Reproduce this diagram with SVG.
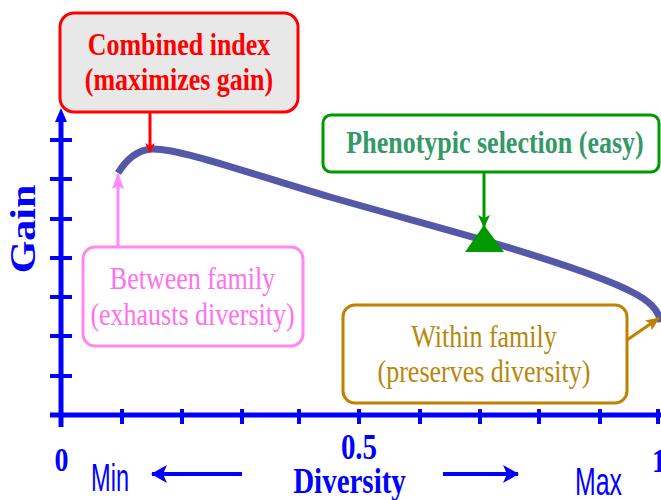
<svg xmlns="http://www.w3.org/2000/svg" width="661" height="500" viewBox="0 0 661 500">
<style>
.ser{font-family:"Liberation Serif","Times New Roman",serif;}
.b{font-weight:bold;}
.mid{text-anchor:middle;}
.blue{fill:#0000ff;}
.axis{stroke:#0000ff;stroke-width:5;fill:none;}
.tick{stroke:#0000ff;stroke-width:4;fill:none;}
.box{stroke-width:3;}
</style>
<defs>
<marker id="aRed" markerWidth="10" markerHeight="12" refX="9" refY="6" orient="auto" markerUnits="userSpaceOnUse"><path d="M0,1 L10,6 L0,11 L3,6 Z" fill="#ff0000"/></marker>
<marker id="aPink" markerWidth="16" markerHeight="12" refX="15" refY="6" orient="auto" markerUnits="userSpaceOnUse"><path d="M0,0 L16,6 L0,12 L3,6 Z" fill="#ff88ff"/></marker>
<marker id="aGreen" markerWidth="13" markerHeight="12" refX="12" refY="6" orient="auto" markerUnits="userSpaceOnUse"><path d="M0,0 L13,6 L0,12 L3,6 Z" fill="#009900"/></marker>
<marker id="aBrown" markerWidth="14" markerHeight="12" refX="13" refY="6" orient="auto" markerUnits="userSpaceOnUse"><path d="M0,0 L14,6 L0,12 L3,6 Z" fill="#c08000"/></marker>
<marker id="aBlue" markerWidth="16" markerHeight="18" refX="15" refY="9" orient="auto" markerUnits="userSpaceOnUse"><path d="M0,0 L16,9 L0,18 L4,9 Z" fill="#0000ff"/></marker>
</defs>

<g id="axes">
<line class="axis" x1="61" y1="118" x2="61" y2="427"/>
<path d="M61,108 L67,122 L55,122 Z" fill="#0000ff"/>
<line class="axis" x1="50" y1="415" x2="661" y2="415"/>
<g class="tick">
<line x1="50" y1="140" x2="72" y2="140"/>
<line x1="50" y1="179" x2="72" y2="179"/>
<line x1="50" y1="219" x2="72" y2="219"/>
<line x1="50" y1="258" x2="72" y2="258"/>
<line x1="50" y1="297" x2="72" y2="297"/>
<line x1="50" y1="336" x2="72" y2="336"/>
<line x1="50" y1="376" x2="72" y2="376"/>
<line x1="122" y1="409" x2="122" y2="424"/>
<line x1="182" y1="409" x2="182" y2="424"/>
<line x1="242" y1="409" x2="242" y2="424"/>
<line x1="299" y1="409" x2="299" y2="424"/>
<line x1="359" y1="409" x2="359" y2="424"/>
<line x1="420" y1="409" x2="420" y2="424"/>
<line x1="480" y1="409" x2="480" y2="424"/>
<line x1="539" y1="409" x2="539" y2="424"/>
<line x1="600" y1="409" x2="600" y2="424"/>
<line x1="658" y1="409" x2="658" y2="424"/>
</g>
<text class="ser b blue mid" font-size="35" transform="translate(35,229) rotate(-90) scale(1.2,1)">Gain</text>
<text class="ser b blue mid" font-size="28" transform="translate(61.5,471) scale(1,1.2)">0</text>
<text class="ser b blue mid" font-size="29" transform="translate(359,459) scale(1,1.2)">0.5</text>
<text class="ser b blue mid" font-size="28" transform="translate(659,472) scale(1,1.2)">1</text>
<text class="ser b blue mid" font-size="29" transform="translate(349.5,493) scale(1,1.2)">Diversity</text>
<text class="blue" font-family="'Liberation Sans',Arial,sans-serif" font-size="32" textLength="38" lengthAdjust="spacingAndGlyphs" transform="translate(91,491) scale(1,1.2)">Min</text>
<text class="blue" font-family="'Liberation Sans',Arial,sans-serif" font-size="32" textLength="47" lengthAdjust="spacingAndGlyphs" transform="translate(575,495) scale(1,1.2)">Max</text>
<line x1="242" y1="474" x2="152" y2="474" stroke="#0000ff" stroke-width="4" marker-end="url(#aBlue)"/>
<line x1="443" y1="474" x2="518" y2="474" stroke="#0000ff" stroke-width="4" marker-end="url(#aBlue)"/>
</g>

<g id="curve">
<path d="M118,173 C126,160 136,150 152,149 C180,148 260,177 330,197 C400,217 450,230 500,245 C560,263 605,278 632,292 C650,301 658,310 661,322" fill="none" stroke="#5558a8" stroke-width="7"/>
</g>

<g id="connectors">
<line x1="150" y1="112" x2="150" y2="152" stroke="#ff0000" stroke-width="3" marker-end="url(#aRed)"/>
<line x1="118" y1="247" x2="118" y2="174" stroke="#ff88ff" stroke-width="3" marker-end="url(#aPink)"/>
<line x1="484" y1="172" x2="484" y2="227" stroke="#009900" stroke-width="3" marker-end="url(#aGreen)"/>
<line x1="627" y1="340" x2="659" y2="318" stroke="#c08000" stroke-width="3" marker-end="url(#aBrown)"/>
</g>

<g id="phenotypic-marker">
<path d="M484,225 L504,252 L465,252 Z" fill="#009900"/>
</g>

<g id="combined-index">
<rect class="box" x="60" y="13" width="238" height="99" rx="14" fill="#e8e8e8" stroke="#ff0000"/>
<text class="ser b mid" fill="#ff0000" font-size="26" transform="translate(179,55) scale(1,1.2)">Combined index</text>
<text class="ser b mid" fill="#ff0000" font-size="26" transform="translate(179,90) scale(1,1.2)">(maximizes gain)</text>
</g>

<g id="phenotypic-selection">
<rect class="box" x="323" y="115" width="336" height="57" rx="8" fill="#ffffff" stroke="#009900"/>
<text class="ser b mid" fill="#339966" font-size="26" transform="translate(495,153) scale(1,1.2)">Phenotypic selection (easy)</text>
</g>

<g id="between-family">
<rect class="box" x="83" y="247" width="220" height="99" rx="12" fill="#ffffff" stroke="#ff88f0"/>
<text class="ser mid" fill="#ff70ee" font-size="26" transform="translate(192.5,289) scale(1,1.2)">Between family</text>
<text class="ser mid" fill="#ff70ee" font-size="26" transform="translate(192.5,325) scale(1,1.2)">(exhausts diversity)</text>
</g>

<g id="within-family">
<rect class="box" x="343" y="305" width="284" height="98" rx="12" fill="#ffffff" stroke="#c08000"/>
<text class="ser mid" fill="#b8860b" font-size="26" transform="translate(484,347) scale(1,1.2)">Within family</text>
<text class="ser mid" fill="#b8860b" font-size="26" transform="translate(484,382) scale(1,1.2)">(preserves diversity)</text>
</g>
</svg>
